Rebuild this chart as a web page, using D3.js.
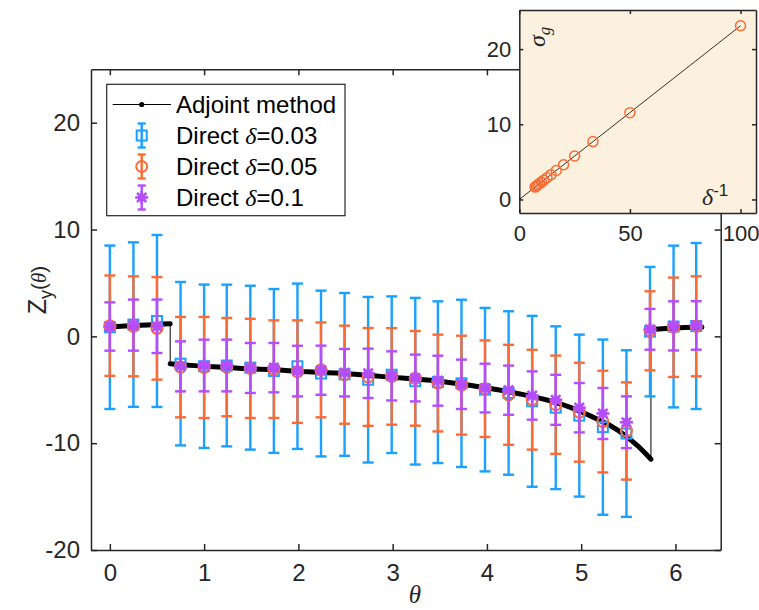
<!DOCTYPE html>
<html>
<head>
<meta charset="utf-8">
<script src="https://cdn.jsdelivr.net/npm/d3@7"></script>
<style>
  body { margin: 0; background: #fff; }
  svg { display: block; font-family: "Liberation Sans", Arial, sans-serif; }
</style>
</head>
<body>
<div id="chart"></div>
<script>
// sample positions of the direct simulations
const theta = [0, 0.25, 0.50, 0.75, 1.00, 1.24, 1.49, 1.74, 1.99, 2.24, 2.49, 2.74, 2.99,
  3.24, 3.48, 3.73, 3.98, 4.23, 4.48, 4.73, 4.98, 5.23, 5.48, 5.73, 5.98, 6.22];

// direct delta = 0.03
const blueZ = [0.85, 1.10, 1.44, -2.56, -2.80, -2.73, -2.93, -3.24, -2.80, -3.48, -3.56, -4.06, -3.59,
  -4.20, -4.29, -4.40, -4.99, -5.30, -6.08, -6.68, -7.42, -8.50, -9.10, 0.44, 0.92, 0.97];
const blueErr = [7.65, 7.70, 8.05, 7.65, 7.65, 7.57, 7.67, 7.67, 7.74, 7.76, 7.62, 7.75, 7.33,
  7.80, 7.57, 7.83, 7.65, 7.65, 8.00, 7.62, 7.58, 8.20, 7.80, 6.06, 7.57, 7.77];

// direct delta = 0.05
const orangeZ = [1.00, 0.94, 0.75, -2.88, -2.91, -2.88, -3.00, -3.07, -3.30, -3.14, -3.59, -3.80, -3.75,
  -3.93, -4.37, -4.57, -4.90, -5.47, -5.93, -6.40, -7.10, -7.98, -8.86, 0.52, 0.85, 0.94];
const orangeErr = [4.70, 4.68, 4.80, 4.70, 4.73, 4.60, 4.64, 4.57, 4.80, 4.44, 4.59, 4.58, 4.52,
  4.43, 4.53, 4.63, 4.52, 4.68, 4.67, 4.60, 4.63, 4.76, 4.55, 3.70, 4.65, 4.68];

// direct delta = 0.1
const purpleZ = [0.92, 1.05, 0.94, -2.81, -2.73, -2.73, -2.96, -2.93, -3.25, -3.17, -3.40, -3.46, -3.70,
  -3.90, -4.15, -4.49, -4.84, -5.04, -5.54, -5.94, -6.68, -7.22, -8.04, 0.66, 0.98, 1.02];
const purpleErr = [2.26, 2.39, 2.50, 2.34, 2.42, 2.42, 2.34, 2.31, 2.37, 2.30, 2.22, 2.31, 2.30,
  2.19, 2.34, 2.31, 2.28, 2.30, 2.26, 2.34, 2.31, 2.39, 2.42, 1.91, 2.30, 2.27];

// adjoint method curve
const adjTheta = [0, 0.08, 0.16, 0.24, 0.32, 0.40, 0.48, 0.56, 0.64,
  0.64, 0.72, 0.80, 0.90, 1.00, 1.10, 1.20, 1.30, 1.40, 1.50, 1.60, 1.70, 1.80, 1.90,
  2.00, 2.10, 2.20, 2.30, 2.40, 2.50, 2.60, 2.70, 2.80, 2.90, 3.00, 3.10, 3.20, 3.30,
  3.40, 3.50, 3.60, 3.70, 3.80, 3.90, 4.00, 4.10, 4.20, 4.30, 4.40, 4.50, 4.60, 4.70,
  4.80, 4.90, 5.00, 5.10, 5.20, 5.30, 5.40, 5.50, 5.60, 5.68, 5.74,
  5.74, 5.82, 5.90, 6.00, 6.10, 6.20, 6.28];
const adjZ = [0.88, 0.92, 0.96, 1.00, 1.03, 1.07, 1.11, 1.15, 1.19,
  -2.56, -2.63, -2.68, -2.74, -2.81, -2.85, -2.90, -2.95, -3.00, -3.05, -3.08, -3.11, -3.15, -3.21,
  -3.28, -3.32, -3.36, -3.40, -3.44, -3.49, -3.55, -3.62, -3.69, -3.77, -3.84, -3.90, -3.96, -4.03,
  -4.11, -4.20, -4.31, -4.43, -4.56, -4.69, -4.83, -4.98, -5.13, -5.30, -5.48, -5.67, -5.88, -6.10,
  -6.38, -6.70, -7.05, -7.45, -7.88, -8.30, -8.85, -9.50, -10.25, -10.95, -11.50,
  0.62, 0.68, 0.73, 0.78, 0.82, 0.86, 0.88];

// inset: sigma_g against 1/delta
const invDelta = [100, 50, 33.3, 25, 20, 16.7, 14.3, 12.5, 11.1, 10, 9.09, 8.33, 7.69, 7.14];
const sigmaG = [23.1, 11.55, 7.7, 5.78, 4.62, 3.85, 3.3, 2.89, 2.57, 2.31, 2.1, 1.93, 1.78, 1.65];
const fitX = [0, 100];
const fitY = [0, 23.1];

const xTicks = [0, 1, 2, 3, 4, 5, 6];
const yTicks = [-20, -10, 0, 10, 20];
const insetXTicks = [0, 50, 100];
const insetYTicks = [0, 10, 20];

const seriesNames = ["0.03", "0.05", "0.1"];

const axisColor = "#262626";
const blue = "#1aa0ff";
const orange = "#ff6a33";
const purple = "#b44dff";

const width = 759;
const height = 610;
const plain = d => String(d);

const svg = d3.select("#chart")
  .append("svg")
  .attr("width", width)
  .attr("height", height);

const xScale = d3.scaleLinear().domain([-0.2, 6.48]).range([91, 720.7]);
const yScale = d3.scaleLinear().domain([-20, 25]).range([550, 69.3]);

function styleAxis(g, fontSize) {
  g.attr("font-family", null).attr("font-size", null);
  g.selectAll("path, line").attr("stroke", axisColor).attr("stroke-width", 1.5);
  g.selectAll("text").attr("fill", axisColor).style("font-size", fontSize + "px");
}

// main axes box
svg.append("g")
  .attr("transform", "translate(0,550)")
  .call(d3.axisBottom(xScale).tickValues(xTicks).tickFormat(plain).tickSizeInner(-6).tickSizeOuter(0).tickPadding(14))
  .call(styleAxis, 24);
svg.append("g")
  .attr("transform", "translate(0,69.3)")
  .call(d3.axisTop(xScale).tickValues(xTicks).tickSizeInner(-6).tickSizeOuter(0).tickFormat(""))
  .call(styleAxis, 24);
svg.append("g")
  .attr("transform", "translate(91,0)")
  .call(d3.axisLeft(yScale).tickValues(yTicks).tickFormat(plain).tickSizeInner(-6).tickSizeOuter(0).tickPadding(11))
  .call(styleAxis, 24);
svg.append("g")
  .attr("transform", "translate(720.7,0)")
  .call(d3.axisRight(yScale).tickValues(yTicks).tickSizeInner(-6).tickSizeOuter(0).tickFormat(""))
  .call(styleAxis, 24);

// axis labels
svg.append("text")
  .attr("x", 415)
  .attr("y", 603)
  .attr("text-anchor", "middle")
  .style("font-family", "'Liberation Serif', serif")
  .style("font-style", "italic")
  .style("font-size", "25px")
  .attr("fill", axisColor)
  .text("θ");

const yLabel = svg.append("text")
  .attr("transform", "translate(46,290) rotate(-90)")
  .attr("text-anchor", "middle")
  .style("font-size", "25px")
  .attr("fill", axisColor);
yLabel.append("tspan").text("Z");
yLabel.append("tspan").attr("dy", 6).style("font-size", "18px").text("y");
yLabel.append("tspan").attr("dy", -6).style("font-size", "21px").text("(");
yLabel.append("tspan").style("font-size", "21px").style("font-family", "'Liberation Serif', serif")
  .style("font-style", "italic").text("θ");
yLabel.append("tspan").style("font-size", "21px").text(")");

// adjoint method: thin line through all points, thick dotted run on each branch
const adjData = adjTheta.map((t, i) => [t, adjZ[i]]);
const branches = [];
adjData.forEach((d, i) => {
  if (i === 0 || Math.abs(d[1] - adjData[i - 1][1]) > 2) branches.push([]);
  branches[branches.length - 1].push(d);
});

const line = d3.line().x(d => xScale(d[0])).y(d => yScale(d[1]));

svg.append("path")
  .attr("d", line(adjData))
  .attr("fill", "none")
  .attr("stroke", "#000")
  .attr("stroke-width", 1);

svg.selectAll(".branch")
  .data(branches)
  .join("path")
  .attr("class", "branch")
  .attr("d", line)
  .attr("fill", "none")
  .attr("stroke", "#000")
  .attr("stroke-width", 5)
  .attr("stroke-linecap", "round")
  .attr("stroke-linejoin", "round");

// markers
function drawMarker(g, type, color) {
  if (type === "square") {
    g.append("rect").attr("x", -5).attr("y", -5).attr("width", 10).attr("height", 10)
      .attr("fill", "none").attr("stroke", color).attr("stroke-width", 2);
  } else if (type === "circle") {
    g.append("circle").attr("r", 5.5).attr("fill", "none").attr("stroke", color).attr("stroke-width", 2);
  } else {
    const s = 6.5;
    [[-s, 0, s, 0], [0, -s, 0, s], [-s * 0.72, -s * 0.72, s * 0.72, s * 0.72], [-s * 0.72, s * 0.72, s * 0.72, -s * 0.72]]
      .forEach(p => g.append("line").attr("x1", p[0]).attr("y1", p[1]).attr("x2", p[2]).attr("y2", p[3])
        .attr("stroke", color).attr("stroke-width", 2.6));
    g.append("circle").attr("r", 4).attr("fill", color);
  }
}

function drawSeries(vals, errs, color, type) {
  const g = svg.append("g");
  const pts = theta.map((t, i) => ({ t: t, v: vals[i], e: errs[i] }));
  const bars = g.selectAll("g").data(pts).join("g")
    .attr("transform", d => `translate(${xScale(d.t)},0)`);
  bars.append("line")
    .attr("y1", d => yScale(d.v - d.e)).attr("y2", d => yScale(d.v + d.e))
    .attr("stroke", color).attr("stroke-width", 2.4);
  bars.append("line")
    .attr("x1", -5.5).attr("x2", 5.5)
    .attr("y1", d => yScale(d.v + d.e)).attr("y2", d => yScale(d.v + d.e))
    .attr("stroke", color).attr("stroke-width", 2.4);
  bars.append("line")
    .attr("x1", -5.5).attr("x2", 5.5)
    .attr("y1", d => yScale(d.v - d.e)).attr("y2", d => yScale(d.v - d.e))
    .attr("stroke", color).attr("stroke-width", 2.4);
  bars.each(function (d) {
    const m = d3.select(this).append("g").attr("transform", `translate(0,${yScale(d.v)})`);
    drawMarker(m, type, color);
  });
}

drawSeries(blueZ, blueErr, blue, "square");
drawSeries(orangeZ, orangeErr, orange, "circle");
drawSeries(purpleZ, purpleErr, purple, "star");

// legend
const legend = svg.append("g");
legend.append("rect")
  .attr("x", 106.7).attr("y", 84.3).attr("width", 238.3).attr("height", 131.4)
  .attr("fill", "#fff").attr("stroke", axisColor).attr("stroke-width", 1.2);

const rowY = [104.5, 135.5, 166.5, 197.5];
legend.append("line").attr("x1", 112.7).attr("x2", 171).attr("y1", rowY[0]).attr("y2", rowY[0])
  .attr("stroke", "#000").attr("stroke-width", 1);
legend.append("circle").attr("cx", 141.7).attr("cy", rowY[0]).attr("r", 2.6).attr("fill", "#000");
legend.append("text").attr("x", 176).attr("y", rowY[0] + 8.5)
  .style("font-size", "24px").attr("fill", "#000").text("Adjoint method");

[[blue, "square"], [orange, "circle"], [purple, "star"]].forEach((s, i) => {
  const yy = rowY[i + 1];
  const g = legend.append("g").attr("transform", `translate(141.7,${yy})`);
  g.append("line").attr("y1", -12).attr("y2", 12).attr("stroke", s[0]).attr("stroke-width", 2.4);
  g.append("line").attr("x1", -4).attr("x2", 4).attr("y1", -12).attr("y2", -12).attr("stroke", s[0]).attr("stroke-width", 2.4);
  g.append("line").attr("x1", -4).attr("x2", 4).attr("y1", 12).attr("y2", 12).attr("stroke", s[0]).attr("stroke-width", 2.4);
  drawMarker(g, s[1], s[0]);
  const t = legend.append("text").attr("x", 176).attr("y", yy + 8.5)
    .style("font-size", "24px").attr("fill", "#000");
  t.append("tspan").text("Direct ");
  t.append("tspan").style("font-family", "'Liberation Serif', serif").style("font-style", "italic").text("δ");
  t.append("tspan").text("=" + seriesNames[i]);
});

// inset
const ix = d3.scaleLinear().domain([0, 107]).range([519.3, 756]);
const iy = d3.scaleLinear().domain([-1.8, 25.2]).range([213, 10]);

svg.append("rect")
  .attr("x", 519.3).attr("y", 10).attr("width", 756 - 519.3).attr("height", 203)
  .attr("fill", "#fcf1de");

svg.append("g")
  .attr("transform", "translate(0,213)")
  .call(d3.axisBottom(ix).tickValues(insetXTicks).tickFormat(plain).tickSizeInner(-4).tickSizeOuter(0).tickPadding(12))
  .call(styleAxis, 22);
svg.append("g")
  .attr("transform", "translate(0,10)")
  .call(d3.axisTop(ix).tickValues(insetXTicks).tickSizeInner(-4).tickSizeOuter(0).tickFormat(""))
  .call(styleAxis, 22);
svg.append("g")
  .attr("transform", "translate(519.3,0)")
  .call(d3.axisLeft(iy).tickValues(insetYTicks).tickFormat(plain).tickSizeInner(-4).tickSizeOuter(0).tickPadding(8))
  .call(styleAxis, 22);
svg.append("g")
  .attr("transform", "translate(756,0)")
  .call(d3.axisRight(iy).tickValues(insetYTicks).tickSizeInner(-4).tickSizeOuter(0).tickFormat(""))
  .call(styleAxis, 22);

svg.append("line")
  .attr("x1", ix(fitX[0])).attr("y1", iy(fitY[0]))
  .attr("x2", ix(fitX[1])).attr("y2", iy(fitY[1]))
  .attr("stroke", "#000").attr("stroke-width", 0.8);

svg.selectAll(".inset-pt")
  .data(invDelta.map((d, i) => [d, sigmaG[i]]))
  .join("circle")
  .attr("class", "inset-pt")
  .attr("cx", d => ix(d[0]))
  .attr("cy", d => iy(d[1]))
  .attr("r", 5)
  .attr("fill", "none")
  .attr("stroke", orange)
  .attr("stroke-width", 1.5);

const sLabel = svg.append("text")
  .attr("transform", "translate(545,47) rotate(-90)")
  .style("font-family", "'Liberation Serif', serif")
  .style("font-size", "24px")
  .attr("fill", axisColor);
sLabel.append("tspan").style("font-style", "italic").text("σ");
sLabel.append("tspan").attr("dy", 5).style("font-size", "17px").style("font-style", "italic").text("g");

const dLabel = svg.append("text")
  .attr("x", 702)
  .attr("y", 205)
  .style("font-size", "24px")
  .attr("fill", axisColor);
dLabel.append("tspan").style("font-family", "'Liberation Serif', serif").style("font-style", "italic").text("δ");
dLabel.append("tspan").attr("dy", -9).style("font-size", "17px").text("-1");
</script>
</body>
</html>
